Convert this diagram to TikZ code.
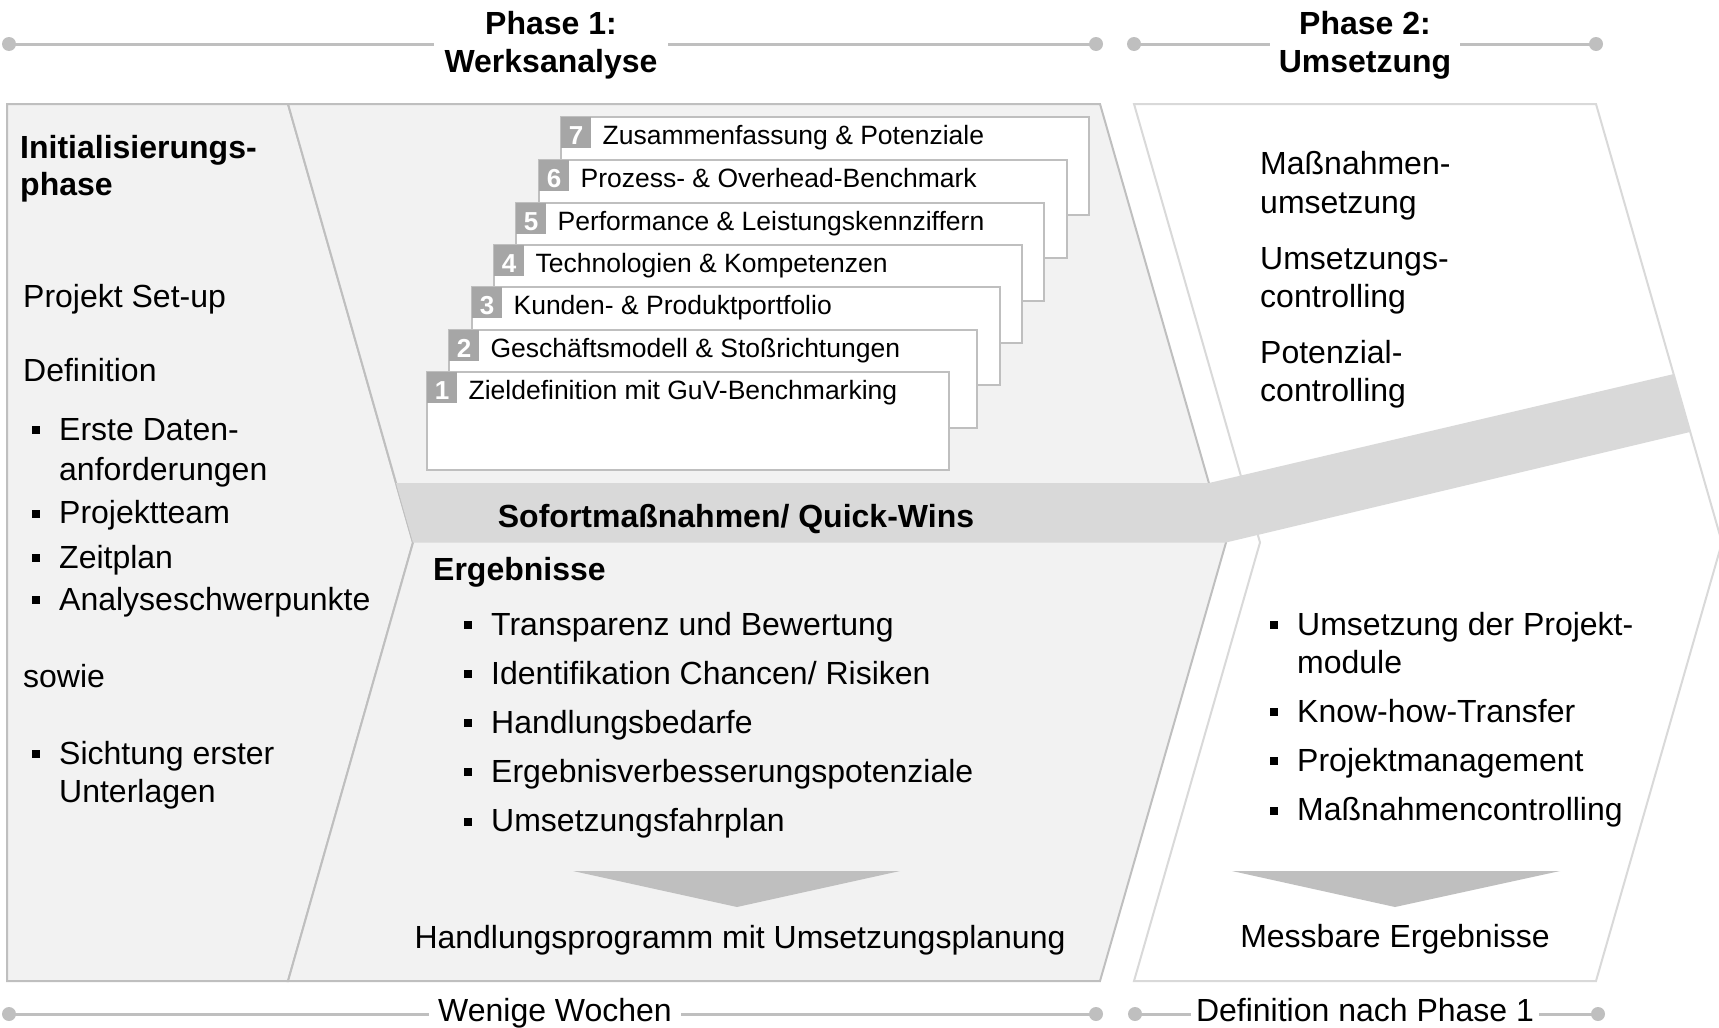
\documentclass[tikz,border=0pt]{standalone}
\usepackage{fontspec}
\setmainfont{Liberation Sans}
\usetikzlibrary{positioning}

\definecolor{panelgray}{HTML}{F2F2F2}
\definecolor{bandgray}{HTML}{D9D9D9}
\definecolor{edgegray}{HTML}{BFBFBF}
\definecolor{numgray}{HTML}{A6A6A6}

\newcommand{\sqbul}{\rule[6pt]{8pt}{8pt}\hspace{19pt}}

\tikzset{
  txt/.style={font=\fontsize{32}{38}\selectfont, inner sep=0pt, anchor=base west},
  btxt/.style={txt, font=\fontsize{32}{38}\selectfont\bfseries},
  ctxt/.style={txt, anchor=base},
  heading/.style={font=\fontsize{32}{38}\selectfont\bfseries, align=center, fill=white, inner xsep=11pt, inner ysep=2pt},
  tlabel/.style={font=\fontsize{32}{38}\selectfont, fill=white, inner xsep=7pt, inner ysep=1pt, anchor=base},
  tline/.style={draw=edgegray, line width=3pt},
  tdot/.style={fill=edgegray},
  panel/.style={fill=panelgray, draw=edgegray, line width=2pt},
  modbox/.style={draw=edgegray, line width=2pt, fill=white, minimum width=528pt, minimum height=98pt, anchor=north west, inner sep=0pt, outer sep=0pt},
  numbox/.style={fill=numgray, text=white, font=\fontsize{26}{30}\selectfont\bfseries, minimum width=30pt, minimum height=31pt, text height=23.6pt, text depth=0pt, anchor=north west, inner sep=0pt},
  modtxt/.style={font=\fontsize{26.5}{30}\selectfont, inner sep=0pt},
}

\begin{document}
\begin{tikzpicture}[x=1pt,y=-1pt]
  \useasboundingbox (0,0) rectangle (1719,1028);

  \coordinate (ta1) at (9,44);
  \coordinate (tb1) at (1096,44);
  \coordinate (ta2) at (1134,44);
  \coordinate (tb2) at (1596,44);
  \coordinate (ba1) at (9,1014);
  \coordinate (bb1) at (1096,1014);
  \coordinate (ba2) at (1135,1014);
  \coordinate (bb2) at (1598,1014);
  \draw[tline] (ta1) -- (tb1);
  \draw[tline] (ta2) -- (tb2);
  \draw[tline] (ba1) -- (bb1);
  \draw[tline] (ba2) -- (bb2);
  \foreach \c in {ta1,tb1,ta2,tb2,ba1,bb1,ba2,bb2}
    \fill[tdot] (\c) circle (7pt);
  \node[heading] (ph1) at (551,45) {Phase 1:\\Werksanalyse};
  \node[heading, inner xsep=9pt] (ph2) at (1365,45) {Phase 2:\\Umsetzung};
  \node[tlabel, inner xsep=9pt] (dur1) at (555,1021) {Wenige Wochen};
  \node[tlabel, inner xsep=5pt] (dur2) at (1365,1021) {Definition nach Phase 1};

  \filldraw[panel] (7,104) -- (288,104) -- (413,542.5) -- (288,981) -- (7,981) -- cycle;
  \filldraw[panel] (288,104) -- (1100,104) -- (1226,542.5) -- (1100,981) -- (288,981) -- (413,542.5) -- cycle;
  \filldraw[fill=white, draw=bandgray, line width=2pt] (1134,104) -- (1596,104) -- (1722,542.5) -- (1596,981) -- (1134,981) -- (1260,542.5) -- cycle;
  \fill[bandgray] (396,483) -- (1209,483) -- (1674,374) -- (1690,432) -- (1226,542.5) -- (413,542.5) -- cycle;

  \node[modbox] (m7) at (561,117) {};
  \node[numbox] (n7) at (m7.north west) {7};
  \node[modtxt, base right=11pt of n7] (t7) {Zusammenfassung \& Potenziale};
  \node[modbox] (m6) at (539,160) {};
  \node[numbox] (n6) at (m6.north west) {6};
  \node[modtxt, base right=11pt of n6] (t6) {Prozess- \& Overhead-Benchmark};
  \node[modbox] (m5) at (516,203) {};
  \node[numbox] (n5) at (m5.north west) {5};
  \node[modtxt, base right=11pt of n5] (t5) {Performance \& Leistungskennziffern};
  \node[modbox] (m4) at (494,245) {};
  \node[numbox] (n4) at (m4.north west) {4};
  \node[modtxt, base right=11pt of n4] (t4) {Technologien \& Kompetenzen};
  \node[modbox] (m3) at (472,287) {};
  \node[numbox] (n3) at (m3.north west) {3};
  \node[modtxt, base right=11pt of n3] (t3) {Kunden- \& Produktportfolio};
  \node[modbox] (m2) at (449,330) {};
  \node[numbox] (n2) at (m2.north west) {2};
  \node[modtxt, base right=11pt of n2] (t2) {Geschäftsmodell \& Stoßrichtungen};
  \node[modbox, minimum width=522pt] (m1) at (427,372) {};
  \node[numbox] (n1) at (m1.north west) {1};
  \node[modtxt, base right=11pt of n1] (t1) {Zieldefinition mit GuV-Benchmarking};

  \node[btxt] (init) at (20,158) {Initialisierungs-};
  \node[btxt] (init2) at (20,195) {phase};
  \node[txt] (setup) at (23,307) {Projekt Set-up};
  \node[txt] (defi) at (23,381) {Definition};
  \node[txt] (l1) at (32,440) {\sqbul Erste Daten-};
  \node[txt] (l1b) at (59,480) {anforderungen};
  \node[txt] (l2) at (32,523.5) {\sqbul Projektteam};
  \node[txt] (l3) at (32,568) {\sqbul Zeitplan};
  \node[txt] (l4) at (32,610) {\sqbul Analyseschwerpunkte};
  \node[txt] (sowie) at (23,687) {sowie};
  \node[txt] (l5) at (32,764) {\sqbul Sichtung erster};
  \node[txt] (l5b) at (59,802) {Unterlagen};

  \node[btxt, anchor=base] (qw) at (736,527) {Sofortmaßnahmen/ Quick-Wins};
  \node[btxt] (erg) at (433,580) {Ergebnisse};
  \node[txt] (e1) at (464,635) {\sqbul Transparenz und Bewertung};
  \node[txt] (e2) at (464,684) {\sqbul Identifikation Chancen/ Risiken};
  \node[txt] (e3) at (464,733) {\sqbul Handlungsbedarfe};
  \node[txt] (e4) at (464,782) {\sqbul Ergebnisverbesserungspotenziale};
  \node[txt] (e5) at (464,831.5) {\sqbul Umsetzungsfahrplan};
  \fill[edgegray] (573,871) -- (900,871) -- (737,907) -- cycle;
  \node[ctxt] (hp) at (740,948) {Handlungsprogramm mit Umsetzungsplanung};

  \node[txt] (p2a) at (1260,174) {Maßnahmen-};
  \node[txt] (p2a2) at (1260,213) {umsetzung};
  \node[txt] (p2b) at (1260,269) {Umsetzungs-};
  \node[txt] (p2b2) at (1260,307) {controlling};
  \node[txt] (p2c) at (1260,363) {Potenzial-};
  \node[txt] (p2c2) at (1260,401) {controlling};
  \node[txt] (f1) at (1270,635) {\sqbul Umsetzung der Projekt-};
  \node[txt] (f1b) at (1297,673) {module};
  \node[txt] (f2) at (1270,722) {\sqbul Know-how-Transfer};
  \node[txt] (f3) at (1270,771) {\sqbul Projektmanagement};
  \node[txt] (f4) at (1270,820.5) {\sqbul Maßnahmencontrolling};
  \fill[edgegray] (1232,871) -- (1560,871) -- (1395,907) -- cycle;
  \node[ctxt] (mess) at (1395,947) {Messbare Ergebnisse};
\end{tikzpicture}
\end{document}
